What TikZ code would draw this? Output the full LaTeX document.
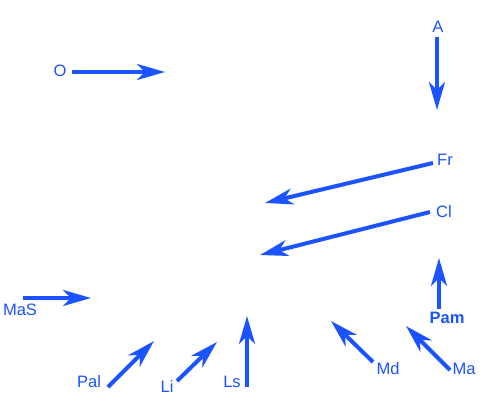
\documentclass[tikz,border=0pt]{standalone}
\usepackage{fontspec}
\setmainfont{Liberation Sans}
\usepackage{xcolor}
\usetikzlibrary{arrows.meta}
\definecolor{fluxblue}{HTML}{1A53FF}

\begin{document}
\begin{tikzpicture}[x=0.75pt, y=-0.75pt,
    every node/.style={font=\fontsize{12.4}{14}\selectfont, text=fluxblue, inner sep=0pt},
    flux/.style={draw=fluxblue, line width=3pt, -{Stealth[length=21pt, width=12pt, inset=6pt]}}]
    \useasboundingbox (0,0) rectangle (500,400);

    % Labels
    \node (O)   at (60,71)   {O};
    \node (A)   at (438,27)  {A};
    \node (Fr)  at (445,160) {Fr};
    \node (Cl)  at (444,212) {Cl};
    \node (Pam) at (447,318) {\bfseries Pam};
    \node (Ma)  at (464,369) {Ma};
    \node (Md)  at (388,369) {Md};
    \node (Ls)  at (232,382) {Ls};
    \node (Li)  at (167,387) {Li};
    \node (Pal) at (89,382)  {Pal};
    \node (MaS) at (20,310)  {MaS};

    % Arrow tails
    \coordinate (O-t)   at (72,72);
    \coordinate (A-t)   at (437,37);
    \coordinate (Fr-t)  at (433,163);
    \coordinate (Cl-t)  at (430,212);
    \coordinate (Pam-t) at (439,309);
    \coordinate (Ma-t)  at (450,370);
    \coordinate (Md-t)  at (373,362);
    \coordinate (Ls-t)  at (247,387);
    \coordinate (Li-t)  at (177,381);
    \coordinate (Pal-t) at (108,387);
    \coordinate (MaS-t) at (23,298);

    % Arrow heads
    \coordinate (O-h)   at (165,72);
    \coordinate (A-h)   at (437,110);
    \coordinate (Fr-h)  at (265,203);
    \coordinate (Cl-h)  at (260,255);
    \coordinate (Pam-h) at (439,258);
    \coordinate (Ma-h)  at (406,326);
    \coordinate (Md-h)  at (331,321);
    \coordinate (Ls-h)  at (247,316);
    \coordinate (Li-h)  at (217,342);
    \coordinate (Pal-h) at (154,341);
    \coordinate (MaS-h) at (91,298);

    % Arrows
    \foreach \n in {O,A,Fr,Cl,Pam,Ma,Md,Ls,Li,Pal,MaS}
        \draw[flux] (\n-t) -- (\n-h);

\end{tikzpicture}
\end{document}
